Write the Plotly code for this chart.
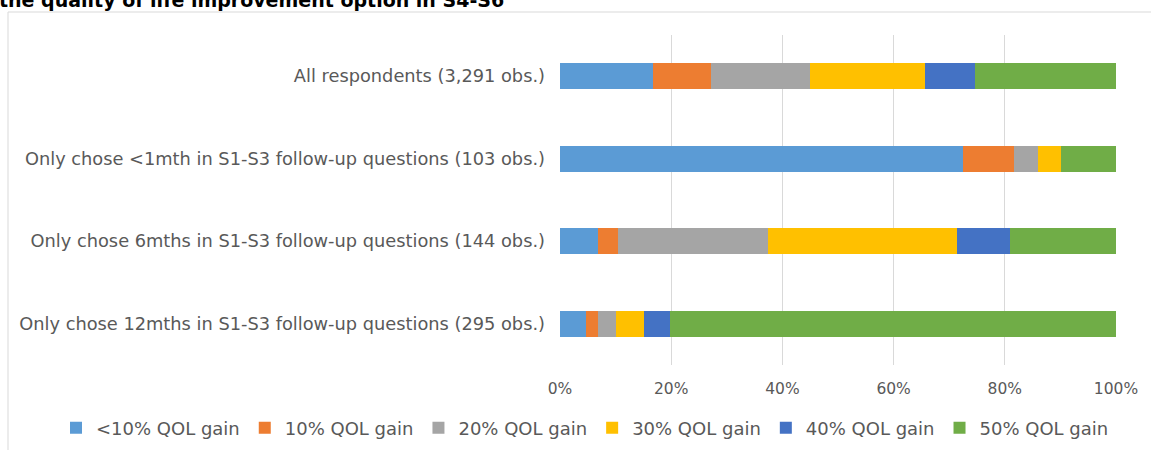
import plotly.graph_objects as go

# Respondent groups (top to bottom)
groups = [
    "All respondents (3,291 obs.)",
    "Only chose <1mth in S1-S3 follow-up questions (103 obs.)",
    "Only chose 6mths in S1-S3 follow-up questions (144 obs.)",
    "Only chose 12mths in S1-S3 follow-up questions (295 obs.)",
]

# Share of each QOL-gain option per group (%)
series_names = ["<10% QOL gain", "10% QOL gain", "20% QOL gain",
                "30% QOL gain", "40% QOL gain", "50% QOL gain"]
lt10_gain = [16.8, 72.5, 6.8, 4.7]
gain_10 = [10.3, 9.1, 3.6, 2.1]
gain_20 = [17.9, 4.4, 27.0, 3.3]
gain_30 = [20.6, 4.1, 34.0, 5.0]
gain_40 = [9.0, 0.0, 9.6, 4.6]
gain_50 = [25.4, 9.9, 19.0, 80.3]
series_values = [lt10_gain, gain_10, gain_20, gain_30, gain_40, gain_50]

colors = ["#5B9BD5", "#ED7D31", "#A5A5A5", "#FFC000", "#4472C4", "#70AD47"]

tick_vals = [0, 20, 40, 60, 80, 100]
tick_text = ["0%", "20%", "40%", "60%", "80%", "100%"]

W, H = 1151, 450
L, R, T, B = 560, 35, 35, 85
pw, ph = W - L - R, H - T - B


def px_x(x):
    return (x - L) / pw


def px_y(y):
    return (H - B - y) / ph


fig = go.Figure()
for name, vals, col in zip(series_names, series_values, colors):
    fig.add_trace(go.Bar(
        y=groups, x=vals, name=name, orientation="h",
        marker=dict(color=col, line=dict(width=0)),
        hovertemplate="%{y}<br>" + name + ": %{x:.1f}%<extra></extra>",
    ))

fig.update_layout(
    width=W, height=H,
    margin=dict(l=L, r=R, t=T, b=B, autoexpand=False),
    barmode="stack",
    bargap=0.685,
    paper_bgcolor="white",
    plot_bgcolor="white",
    font=dict(family="DejaVu Sans", color="#595959", size=15),
    xaxis=dict(
        range=[0, 100], tickvals=tick_vals, ticktext=tick_text,
        showgrid=True, gridcolor="#D9D9D9", gridwidth=1,
        zeroline=False, showline=False, ticks="",
        ticklabelstandoff=12,
        tickfont=dict(size=15.5, color="#595959"),
    ),
    yaxis=dict(
        categoryorder="array", categoryarray=groups, autorange="reversed",
        showgrid=False, showline=False, ticks="", ticklabelstandoff=14,
        tickfont=dict(size=17.8, color="#595959"),
    ),
    legend=dict(
        orientation="h", xref="paper", x=px_x(56), xanchor="left",
        yref="paper", y=px_y(428), yanchor="middle",
        font=dict(size=18, color="#595959"),
        traceorder="normal", itemwidth=30,
        bgcolor="rgba(0,0,0,0)",
    ),
    showlegend=True,
    shapes=[dict(
        type="rect", xref="paper", yref="paper",
        x0=px_x(8), x1=px_x(1160), y0=px_y(460), y1=px_y(12),
        line=dict(color="#D9D9D9", width=1), fillcolor="rgba(0,0,0,0)",
        layer="below",
    )],
    annotations=[dict(
        text="<b>the quality of life improvement option in S4-S6</b>",
        xref="paper", yref="paper", x=px_x(-3), y=px_y(13),
        xanchor="left", yanchor="bottom", showarrow=False,
        font=dict(family="DejaVu Sans", size=19, color="#000000"),
    )],
)

fig.write_html("out.html")
